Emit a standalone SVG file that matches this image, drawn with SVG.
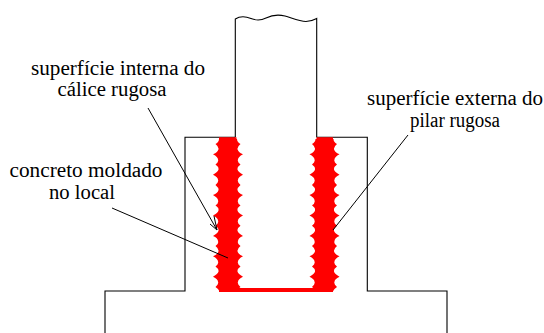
<svg xmlns="http://www.w3.org/2000/svg" width="544" height="333" viewBox="0 0 544 333">
<style>
.o{fill:none;stroke:#000;stroke-width:1.1}
.l{fill:none;stroke:#000;stroke-width:1}
.r{fill:#f00;stroke:none}
text{font-family:"Liberation Serif",serif;font-size:20px;fill:#000;text-anchor:middle}
</style>
<defs>
<path id="dentes" class="r" d="M1 139V292L0 292Q-1 289 -4.500 286.900Q-1 284 -2 281.800Q-2 279 -7 276.700Q-2 274 -1.500 271.600Q-1 269 -4.500 266.500Q-1 264 -2 261.400Q-2 259 -7 256.300Q-2 254 -1.500 251.200Q-1 249 -4.500 246.100Q-1 244 -2 241Q-2 238 -7 235.900Q-2 233 -1.500 230.800Q-1 228 -4.500 225.700Q-1 223 -2 220.600Q-2 218 -7 215.500Q-2 213 -1.500 210.400Q-1 208 -4.500 205.300Q-1 203 -2 200.200Q-2 198 -7 195.100Q-2 193 -1.500 190Q-1 188 -4.500 184.900Q-1 182 -2 179.800Q-2 177 -7 174.700Q-2 172 -1.500 169.600Q-1 167 -4.500 164.500Q-1 162 -2 159.400Q-2 157 -7 154.300Q-2 152 -1.500 149.200Q-1 147 -4.500 144.100Q-1 142 -1 139Z"/>
</defs>
<rect width="544" height="333" fill="#fff"/>
<g id="estrutura">
<path class="o" d="M235.300 137.300V19C240 16 246 16.500 251 18.500C256 20.500 261 20.500 266 18C272 15 279 14.500 285 16C292 18 299 21.500 306 21.500C310 21.500 313 20.500 316.700 18.500V137.300"/>
<path class="o" d="M235.300 137.300H185V291H105V333M316.700 137.300H367.300V291H447V333"/>
</g>
<g id="concreto">
<path class="r" d="M219 137.300H236.500V288H316.500V137.300H333V292H219Z"/>
<use href="#dentes" x="220"/>
<use href="#dentes" transform="translate(236 0) scale(-1 1)"/>
<use href="#dentes" x="316.500"/>
<use href="#dentes" transform="translate(332.500 0) scale(-1 1)"/>
</g>
<g id="conectores">
<path class="l" d="M148 108L217 230M210 224L217 230L214 216"/>
<path class="l" d="M112 208L228 258"/>
<path class="l" d="M408 135L333 230"/>
</g>
<g id="rotulo-interna"><text x="118" y="75" textLength="174" lengthAdjust="spacingAndGlyphs">superfície interna do</text><text x="112" y="96" textLength="109" lengthAdjust="spacingAndGlyphs">cálice rugosa</text></g>
<g id="rotulo-externa"><text x="455" y="105" textLength="176" lengthAdjust="spacingAndGlyphs">superfície externa do</text><text x="455" y="127" textLength="90" lengthAdjust="spacingAndGlyphs">pilar rugosa</text></g>
<g id="rotulo-concreto"><text x="86" y="177" textLength="153" lengthAdjust="spacingAndGlyphs">concreto moldado</text><text x="82" y="199" textLength="66" lengthAdjust="spacingAndGlyphs">no local</text></g>
</svg>
